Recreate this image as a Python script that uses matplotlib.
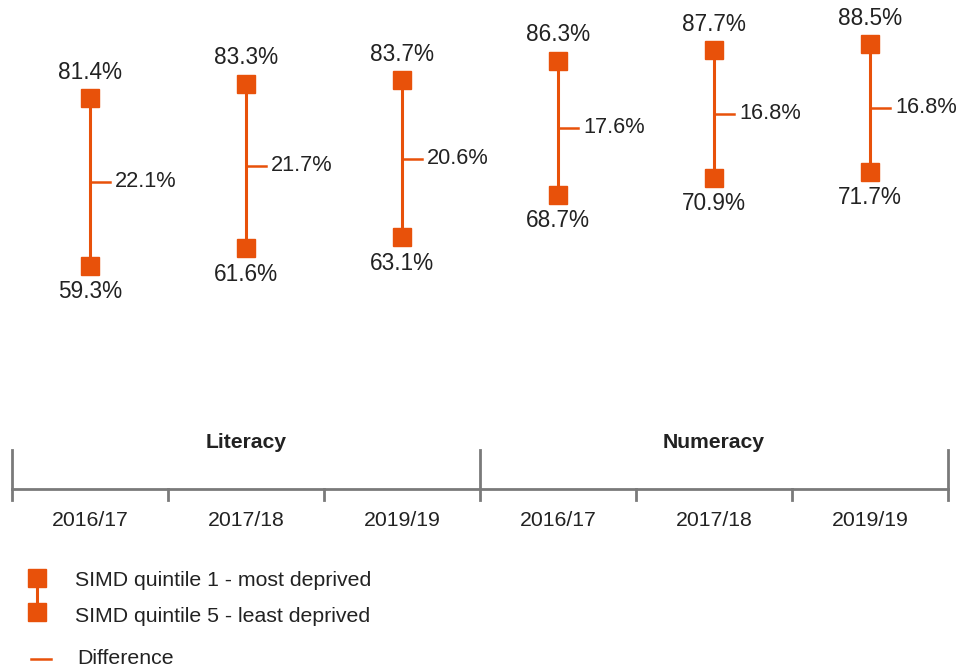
import matplotlib.pyplot as plt
from matplotlib.transforms import blended_transform_factory

plt.rcParams['font.family'] = ['Liberation Sans', 'DejaVu Sans']

groups = ['Literacy', 'Numeracy']
years = ['2016/17', '2017/18', '2019/19', '2016/17', '2017/18', '2019/19']
q5 = [81.4, 83.3, 83.7, 86.3, 87.7, 88.5]   # least deprived
q1 = [59.3, 61.6, 63.1, 68.7, 70.9, 71.7]   # most deprived
gap = [22.1, 21.7, 20.6, 17.6, 16.8, 16.8]

orange = '#e8510a'
grey = '#7a7a7a'
txt = '#222222'

fig = plt.figure(figsize=(9.57, 6.7), dpi=100)
ax = fig.add_axes([0, 0, 1, 1])
ax.set_xlim(-0.577, 5.558)
ax.set_ylim(6.14, 94.29)
ax.axis('off')

xs = list(range(len(years)))
for x, hi, lo, d in zip(xs, q5, q1, gap):
    ax.plot([x, x], [lo, hi], color=orange, lw=2.2, zorder=1)
    ax.plot([x, x], [hi, lo], ls='none', marker='s', ms=13, color=orange, zorder=2)
    mid = (hi + lo) / 2
    ax.plot([x, x + 0.13], [mid, mid], color=orange, lw=1.8)
    ax.text(x + 0.16, mid, f'{d:.1f}%', fontsize=15.7, color=txt, va='center', ha='left')
    ax.text(x, hi + 1.9, f'{hi:.1f}%', fontsize=16.3, color=txt, va='bottom', ha='center')
    ax.text(x, lo - 1.9, f'{lo:.1f}%', fontsize=16.3, color=txt, va='top', ha='center')

# bracketed category axis underneath
tr = blended_transform_factory(ax.transData, ax.transAxes)
y_axis = 1 - 489 / 670
y_top = 1 - 450 / 670
y_tick = 1 - 500 / 670
ax.plot([-0.5, 5.5], [y_axis, y_axis], color=grey, lw=2, transform=tr, clip_on=False)
for b in [-0.5, 2.5, 5.5]:
    ax.plot([b, b], [y_top, y_tick], color=grey, lw=2, transform=tr, clip_on=False)
for b in [0.5, 1.5, 3.5, 4.5]:
    ax.plot([b, b], [y_axis, y_tick], color=grey, lw=2, transform=tr, clip_on=False)
for x, lab in zip(xs, years):
    ax.text(x, 1 - 521 / 670, lab, fontsize=15.3, color=txt, ha='center', va='center', transform=tr)
for i, g in enumerate(groups):
    ax.text(1 + 3 * i, 1 - 443 / 670, g, fontsize=15.2, fontweight='bold', color=txt,
            ha='center', va='center', transform=tr)

# legend
fx = lambda px: px / 957
fy = lambda py: 1 - py / 670
fig.add_artist(plt.Line2D([fx(37), fx(37)], [fy(578), fy(612)], color=orange, lw=2.2))
fig.add_artist(plt.Line2D([fx(37), fx(37)], [fy(578), fy(612)], ls='none', marker='s', ms=12.5, color=orange))
fig.add_artist(plt.Line2D([fx(31), fx(51)], [fy(659), fy(659)], color=orange, lw=1.8))
fig.text(fx(75), fy(580), 'SIMD quintile 1 - most deprived', fontsize=15.3, color=txt, va='center')
fig.text(fx(75), fy(617), 'SIMD quintile 5 - least deprived', fontsize=15.3, color=txt, va='center')
fig.text(fx(77), fy(659), 'Difference', fontsize=15.3, color=txt, va='center')

fig.savefig('out.png', dpi=100, facecolor='white')
